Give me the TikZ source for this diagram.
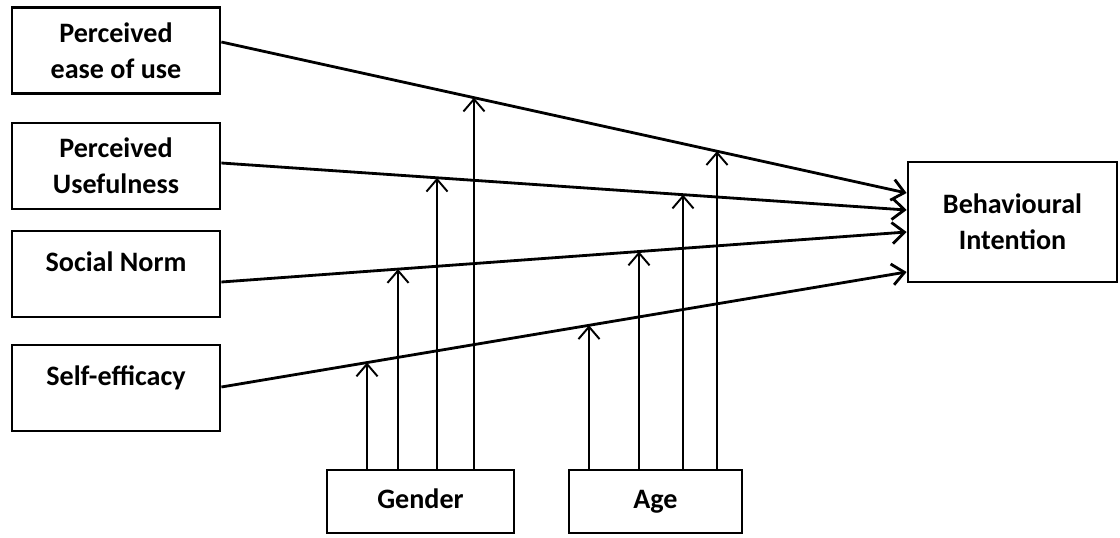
\documentclass[tikz,border=0pt]{standalone}
\usepackage{fontspec}
\setmainfont{Carlito}
\usetikzlibrary{arrows.meta,calc,intersections}

\begin{document}
\begin{tikzpicture}[
    x=0.02cm,y=-0.02cm,>={Straight Barb[length=7pt,width=12pt]},
    factor/.style={draw,line width=1.6pt,align=center,minimum width=4.16cm,minimum height=1.72cm,
      font=\bfseries\fontsize{16}{20.5}\selectfont},
    topline/.style={text depth=0.5cm},
    moderator/.style={draw,line width=1.6pt,minimum height=1.26cm,text height=0.38cm,text depth=0.1cm,
      font=\bfseries\fontsize{16}{20.5}\selectfont},
    path/.style={->,line width=1.6pt},
    modpath/.style={->,line width=1.1pt}
  ]
  \useasboundingbox (0,0) rectangle (1120,538);
  % factors
  \node[factor] (peou) at (116,50.5) {Perceived\\ease of use};
  \node[factor] (pu) at (116,166) {Perceived\\Usefulness};
  \node[factor,topline] (sn) at (116,274) {Social Norm};
  \node[factor,topline] (se) at (116,388) {Self-efficacy};
  \node[factor,minimum width=4.18cm,minimum height=2.4cm] (bi) at (1012.5,222) {Behavioural\\Intention};
  % moderators
  \node[moderator,minimum width=3.74cm] (gender) at (420.5,501.5) {Gender};
  \node[moderator,minimum width=3.46cm] (age) at (655.5,501.5) {Age};
  % main paths
  \coordinate (l1s) at ([yshift=0.17cm]peou.east);
  \coordinate (l2s) at ([yshift=0.06cm]pu.east);
  \coordinate (l3s) at ([yshift=-0.16cm]sn.east);
  \coordinate (l4s) at ([yshift=0.02cm]se.east);
  \coordinate (l1e) at ([yshift=0.58cm]bi.west);
  \coordinate (l2e) at ([yshift=0.24cm]bi.west);
  \coordinate (l3e) at ([yshift=-0.2cm]bi.west);
  \coordinate (l4e) at ([yshift=-1cm]bi.west);
  \foreach \n in {1,...,4}
    \draw[path,name path global=line\n] (l\n s) -- (l\n e);
  % moderating effects
  \foreach \dx/\tgt [count=\i] in {-1.07/4,-0.45/3,0.33/2,1.07/1}{
    \coordinate (gb\i) at ([xshift=\dx cm]gender.north);
    \path[name path=vert] (gb\i) -- ++(0,-460);
    \draw[modpath,name intersections={of=vert and line\tgt,by=gt\i}] (gb\i) -- (gt\i);
  }
  \foreach \dx/\tgt [count=\i] in {-1.33/4,-0.33/3,0.55/2,1.23/1}{
    \coordinate (ab\i) at ([xshift=\dx cm]age.north);
    \path[name path=vert] (ab\i) -- ++(0,-460);
    \draw[modpath,name intersections={of=vert and line\tgt,by=at\i}] (ab\i) -- (at\i);
  }
\end{tikzpicture}
\end{document}
